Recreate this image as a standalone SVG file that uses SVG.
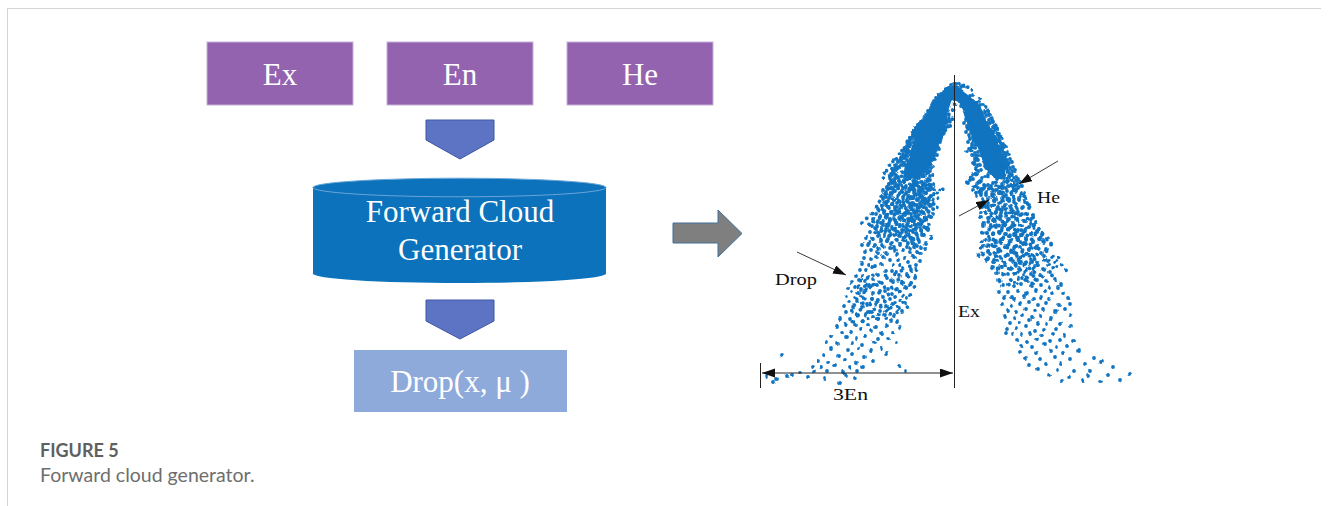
<svg xmlns="http://www.w3.org/2000/svg" width="1329" height="506" viewBox="0 0 1329 506">
  <defs>
    <style>
      .box { fill: #9363b0; stroke: #c7b2d9; stroke-width: 1; }
      .serif { font-family: "Liberation Serif", "Times New Roman", serif; }
      .boxtxt { fill: #ffffff; font-size: 31px; text-anchor: middle; }
      .down { fill: #5d74c4; stroke: #3c57a6; stroke-width: 1; }
      .lbl { fill: #111111; font-size: 17px; }
      .thin { stroke: #222222; stroke-width: 1; fill: none; }
      .lead { stroke: #222222; stroke-width: 0.9; fill: none; marker-end: url(#ah); }
      .drops { fill: none; stroke: #1174c1; stroke-width: 3.8; stroke-linecap: round; }
      .cap { font-family: Lato, "Open Sans", "Liberation Sans", sans-serif; }
    </style>
    <marker id="ah" markerUnits="userSpaceOnUse" markerWidth="14" markerHeight="10" refX="13" refY="4.5" orient="auto-start-reverse">
      <path d="M0,0 L13,4.5 L0,9 Z" fill="#111111"/>
    </marker>
    <!-- gently scatters the drops so the rows do not line up -->
    <filter id="jitter" filterUnits="userSpaceOnUse" x="740" y="70" width="420" height="330" color-interpolation-filters="sRGB">
      <feTurbulence type="fractalNoise" baseFrequency="0.05" numOctaves="1" seed="4" result="t"/>
      <feDisplacementMap in="SourceGraphic" in2="t" scale="8" xChannelSelector="R" yChannelSelector="G"/>
    </filter>
    <!-- drops near the crest edges -->
    <path id="d1" class="drops" d="M946 89h0M951 85h0M956 85h0M961 87h0M938 95h0M970 95h0M935 99h0M932 104h0M946 106h0M929 110h0M926 113h0M945 112h0M976 103h0M979 106h0M962 104h0M984 112h0M986 115h0M968 113h0
M923 119h0M942 117h0M946 120h0M944 123h0M921 122h0M919 125h0M940 125h0M945 127h0M917 128h0M939 130h0M943 129h0M915 131h0M918 134h0M941 133h0
M913 136h0M936 137h0M940 136h0M911 139h0M938 140h0M933 142h0M937 143h0M910 143h0M907 146h0M934 146h0M905 150h0M931 149h0M936 150h0M908 152h0M930 153h0
M903 155h0M929 156h0M934 156h0M901 158h0M927 159h0M906 159h0M931 160h0M899 162h0M902 165h0M925 162h0M923 166h0M897 168h0M929 167h0M920 170h0M895 171h0M925 172h0
M893 175h0M919 175h0M928 176h0M896 178h0M916 179h0M891 181h0M925 181h0M918 183h0M889 184h0M929 185h0M894 186h0M914 187h0M921 189h0M888 189h0M926 190h0
M910 174h0M906 180h0M903 189h0M909 191h0M900 183h0M912 168h0M916 162h0M920 150h0M924 141h0
M989 119h0M990 122h0M966 120h0M969 123h0M993 127h0M995 130h0M968 128h0M971 131h0M991 133h0M997 135h0M999 138h0M970 137h0M974 139h0M996 141h0
M1000 144h0M1003 146h0M972 145h0M969 148h0M998 149h0M1004 152h0M1006 155h0M974 153h0M977 156h0M1002 158h0M1007 160h0M1009 163h0M975 161h0M978 165h0M1005 166h0
M1010 168h0M1012 171h0M979 170h0M973 174h0M1008 175h0M1013 177h0M1015 180h0M982 178h0M978 183h0M1017 183h0M971 179h0M1014 186h0M1018 188h0M985 187h0M981 190h0M1012 191h0
M990 172h0M995 168h0M999 176h0M1003 182h0M993 184h0M998 189h0M1006 187h0M988 162h0M992 154h0M985 147h0"/>
    <!-- drops, upper flanks -->
    <path id="d2" class="drops" d="M886 197h0M890 195h0M897 198h0M899 194h0M905 196h0M913 197h0M916 195h0M922 198h0M929 196h0M932 194h0
M888 201h0M894 200h0M901 202h0M904 199h0M909 201h0M918 200h0M924 203h0M927 200h0M884 203h0M912 204h0
M886 206h0M892 205h0M897 207h0M906 205h0M911 207h0M914 204h0M921 206h0M930 205h0M902 208h0M925 208h0
M882 210h0M889 209h0M895 211h0M900 210h0M908 212h0M917 210h0M920 212h0M927 211h0M913 209h0M932 213h0
M884 214h0M891 215h0M898 214h0M903 216h0M906 213h0M915 215h0M923 214h0M928 216h0M880 217h0M911 218h0
M887 219h0M894 220h0M900 219h0M909 221h0M914 220h0M919 219h0M925 221h0M878 221h0M897 223h0M920 224h0
M883 225h0M889 224h0M904 224h0M907 226h0M912 225h0M917 227h0M929 225h0M876 226h0M893 228h0M924 228h0
M880 230h0M886 229h0M899 230h0M903 231h0M911 230h0M914 232h0M921 231h0M926 229h0M874 233h0M891 233h0
M878 236h0M884 235h0M895 234h0M900 236h0M906 235h0M917 236h0M923 235h0M930 237h0M910 238h0M888 238h0
M872 240h0M881 241h0M887 240h0M892 242h0M897 240h0M903 241h0M912 243h0M919 241h0M925 242h0M908 244h0
M869 246h0M876 247h0M884 246h0M890 247h0M899 246h0M906 248h0M914 247h0M921 246h0M894 250h0M917 251h0
M866 252h0M873 251h0M879 253h0M886 252h0M902 251h0M910 253h0M920 252h0M896 254h0M883 256h0M913 256h0
M981 195h0M987 193h0M994 196h0M999 194h0M1004 197h0M1010 195h0M1015 193h0M1021 196h0M1026 194h0M976 197h0
M984 200h0M990 202h0M996 199h0M1002 201h0M1008 200h0M1013 202h0M1019 199h0M1025 201h0M1028 203h0M993 205h0
M986 206h0M999 207h0M1005 205h0M1011 208h0M1016 206h0M1022 207h0M1030 205h0M989 210h0M1003 210h0M1018 211h0
M985 213h0M992 214h0M997 212h0M1007 214h0M1013 213h0M1020 215h0M1026 213h0M1032 214h0M1001 216h0M1015 217h0
M988 219h0M994 221h0M1000 219h0M1010 220h0M1017 219h0M1023 221h0M1029 220h0M1035 222h0M1005 223h0M983 224h0
M990 226h0M996 227h0M1003 225h0M1012 227h0M1020 226h0M1027 228h0M1033 226h0M1008 230h0M1016 231h0M1038 230h0
M986 233h0M993 234h0M999 232h0M1005 235h0M1022 233h0M1030 234h0M1036 233h0M1013 236h0M1026 238h0M1041 237h0
M989 240h0M996 241h0M1002 239h0M1009 242h0M1018 240h0M1024 242h0M1033 241h0M1039 239h0M1044 242h0M992 245h0
M988 247h0M998 248h0M1006 246h0M1014 248h0M1021 247h0M1029 249h0M1036 247h0M1046 248h0M1011 251h0M1041 252h0"/>
    <!-- drops, middle flanks -->
    <path id="d3" class="drops" d="M864 258h0M871 259h0M877 257h0M889 258h0M898 260h0M905 259h0M915 258h0M920 261h0
M861 263h0M868 265h0M881 264h0M893 264h0M900 266h0M909 264h0M875 267h0M917 266h0
M858 269h0M865 270h0M872 268h0M885 270h0M892 271h0M903 269h0M911 271h0M896 273h0
M855 275h0M862 276h0M878 275h0M887 277h0M899 276h0M906 275h0M914 277h0M869 278h0
M851 281h0M859 280h0M866 282h0M874 281h0M882 283h0M893 281h0M902 282h0M909 284h0
M848 287h0M856 286h0M870 287h0M877 286h0M888 288h0M897 287h0M905 286h0M863 289h0
M852 291h0M860 292h0M867 290h0M880 292h0M885 291h0M892 293h0M900 290h0M873 294h0
M846 297h0M855 298h0M862 296h0M871 299h0M883 297h0M890 298h0M903 296h0M878 300h0
M991 255h0M1000 256h0M1008 254h0M1017 256h0M1026 255h0M1034 257h0M1043 255h0M1050 257h0
M995 261h0M1004 262h0M1013 260h0M1021 262h0M1031 261h0M1038 263h0M1047 261h0M1054 263h0
M993 268h0M1001 267h0M1010 268h0M1019 267h0M1027 269h0M1036 267h0M1044 269h0M1057 268h0
M997 273h0M1006 274h0M1015 272h0M1024 274h0M1032 273h0M1041 275h0M1050 273h0M1022 278h0
M999 280h0M1009 281h0M1018 279h0M1028 281h0M1037 280h0M1046 282h0M1055 280h0M1061 283h0
M1002 286h0M1013 287h0M1021 285h0M1031 287h0M1040 286h0M1049 288h0M1058 286h0M1035 291h0
M998 292h0M1007 293h0M1017 292h0M1026 294h0M1045 292h0M1053 293h0M1063 292h0M1011 297h0
M1004 298h0M1014 299h0M1024 297h0M1033 299h0M1041 298h0M1050 300h0M1067 298h0M1029 302h0"/>
  </defs>

  <!-- page frame -->
  <g id="frame">
    <line x1="7" y1="8.5" x2="1321" y2="8.5" stroke="#d4d4d4" stroke-width="1"/>
    <line x1="7.5" y1="8" x2="7.5" y2="506" stroke="#d4d4d4" stroke-width="1"/>
  </g>

  <!-- parameters -->
  <g id="ex">
    <rect class="box" x="207" y="42" width="146" height="63"/>
    <text class="serif boxtxt" x="280" y="85">Ex</text>
  </g>
  <g id="en">
    <rect class="box" x="387" y="42" width="146" height="63"/>
    <text class="serif boxtxt" x="460" y="85">En</text>
  </g>
  <g id="he">
    <rect class="box" x="567" y="42" width="146" height="63"/>
    <text class="serif boxtxt" x="640" y="85">He</text>
  </g>

  <!-- generator cylinder -->
  <g id="generator">
    <path d="M313,187.5 V273.5 A146.5,9.5 0 0 0 606,273.5 V187.5 Z" fill="#0b72bb"/>
    <ellipse cx="459.5" cy="187.5" rx="146.5" ry="9.3" fill="#0b72bb" stroke="#6aa6d8" stroke-width="1"/>
    <text class="serif boxtxt" x="460" y="222">Forward Cloud</text>
    <text class="serif boxtxt" x="460" y="260">Generator</text>
  </g>

  <!-- output drop -->
  <g id="drop">
    <rect x="354" y="350" width="213" height="62" fill="#8eaadb"/>
    <text class="serif boxtxt" x="460" y="392">Drop(x, μ )</text>
  </g>

  <!-- block arrows -->
  <g id="connectors">
    <path class="down" d="M426,120 H494 V140 L460,159 L426,140 Z"/>
    <path class="down" d="M426,300 H494 V321 L460,339 L426,321 Z"/>
    <path d="M673,223 H718 V210 L742,233.5 L718,257 V243 H673 Z" fill="#7f7f7f" stroke="#41719c" stroke-width="1"/>
  </g>

  <!-- cloud drops plot -->
  <g id="cloud-plot">
    <g filter="url(#jitter)">
      <!-- dense crest -->
      <path d="M904,178 L906,163 L911,148 L917,133 L923,119 L930,106 L938,96 L946,89 L953,86 L960,88 L968,94 L976,103 L983,114 L990,127 L996,141 L1002,155 L1006,168 L1004,180 L994,178 L986,166 L979,153 L973,139 L968,125 L963,113 L958,103 L953,100 L949,112 L945,126 L940,141 L934,155 L927,168 L916,180 Z" fill="#1174c1"/>
      <use href="#d1"/>
      <use href="#d1" transform="translate(-2,3)"/>
      <use href="#d1" transform="translate(3,-1)"/>
      <use href="#d1" transform="rotate(9 955 160)"/>
      <use href="#d2"/>
      <use href="#d2" transform="rotate(18 955 225)"/>
      <use href="#d2" transform="translate(-3,-7)"/>
      <use href="#d3"/>
      <use href="#d3" transform="rotate(-14 955 280)"/>
      <!-- lower, sparse drops -->
      <path class="drops" d="M849 303h0M857 302h0M866 304h0M875 303h0M886 305h0M895 303h0M907 304h0
M844 308h0M853 309h0M862 307h0M880 309h0M888 308h0M899 310h0M870 311h0
M847 314h0M858 315h0M866 313h0M874 316h0M884 314h0M893 316h0M902 313h0
M840 319h0M851 320h0M863 321h0M878 319h0M890 320h0M897 321h0
M836 325h0M846 324h0M855 326h0M868 325h0M876 327h0M886 325h0M901 326h0
M841 331h0M850 332h0M860 330h0M872 331h0M882 333h0M893 331h0
M832 337h0M845 336h0M856 338h0M866 337h0M878 339h0M888 338h0
M828 343h0M838 344h0M851 342h0M862 345h0M874 343h0M896 343h0
M833 349h0M847 350h0M858 348h0M869 351h0M880 349h0
M825 355h0M839 356h0M852 354h0M863 357h0M886 353h0
M818 361h0M830 362h0M845 360h0M857 363h0M872 361h0
M822 367h0M836 366h0M850 368h0M863 366h0M898 366h0
M800 371h0M814 372h0M829 371h0M843 373h0M858 370h0
M768 377h0M786 376h0M808 377h0M826 378h0M845 376h0M855 378h0
M782 356h0M791 374h0M777 379h0M905 371h0M812 367h0M774 382h0M840 383h0M930 237h0M925 247h0
M1003 304h0M1012 305h0M1021 303h0M1038 305h0M1047 304h0M1058 306h0M1068 304h0
M1008 310h0M1017 311h0M1027 309h0M1035 311h0M1044 310h0M1055 312h0M1063 310h0
M1004 316h0M1014 317h0M1023 315h0M1032 318h0M1041 316h0M1052 317h0M1070 316h0
M1009 322h0M1019 323h0M1029 321h0M1038 323h0M1048 322h0M1061 324h0
M1006 328h0M1016 329h0M1026 327h0M1036 330h0M1045 328h0M1057 329h0M1072 327h0
M1012 334h0M1022 335h0M1031 333h0M1042 335h0M1053 334h0M1066 336h0
M1017 340h0M1027 341h0M1037 339h0M1048 341h0M1060 340h0M1075 341h0
M1020 346h0M1031 347h0M1043 345h0M1055 347h0M1068 346h0
M1018 352h0M1035 353h0M1049 351h0M1063 353h0M1079 352h0
M1025 358h0M1040 359h0M1054 357h0M1072 359h0M1094 358h0
M1030 364h0M1046 365h0M1061 363h0M1085 364h0M1101 362h0
M1038 370h0M1057 369h0M1075 371h0M1092 370h0M1111 368h0
M1048 376h0M1069 377h0M1090 375h0M1107 376h0M1129 374h0
M1062 381h0M1083 380h0M1100 382h0M1120 380h0M1005 332h0M987 261h0M980 212h0"/>
    </g>
    <!-- axis and 3En dimension -->
    <line class="thin" x1="954.5" y1="75" x2="954.5" y2="388"/>
    <line class="thin" x1="760.5" y1="363" x2="760.5" y2="388"/>
    <line x1="762" y1="373" x2="953" y2="373" stroke="#222222" stroke-width="1" marker-start="url(#ah)" marker-end="url(#ah)"/>
    <!-- leaders -->
    <line class="lead" x1="797" y1="252" x2="846" y2="275"/>
    <line class="lead" x1="1058" y1="161" x2="1019" y2="184"/>
    <line class="lead" x1="959" y1="216" x2="989" y2="200"/>
    <text class="serif lbl" x="775" y="285" textLength="42" lengthAdjust="spacingAndGlyphs">Drop</text>
    <text class="serif lbl" x="1037" y="203" textLength="23" lengthAdjust="spacingAndGlyphs">He</text>
    <text class="serif lbl" x="958" y="317" textLength="22" lengthAdjust="spacingAndGlyphs">Ex</text>
    <text class="serif lbl" x="833" y="400" textLength="35" lengthAdjust="spacingAndGlyphs">3En</text>
  </g>

  <!-- caption -->
  <g id="caption">
    <text class="cap" x="40" y="457" font-size="18" font-weight="bold" fill="#5f5f5f">FIGURE 5</text>
    <text class="cap" x="40" y="482" font-size="19.5" fill="#6e6e6e">Forward cloud generator.</text>
  </g>
</svg>
